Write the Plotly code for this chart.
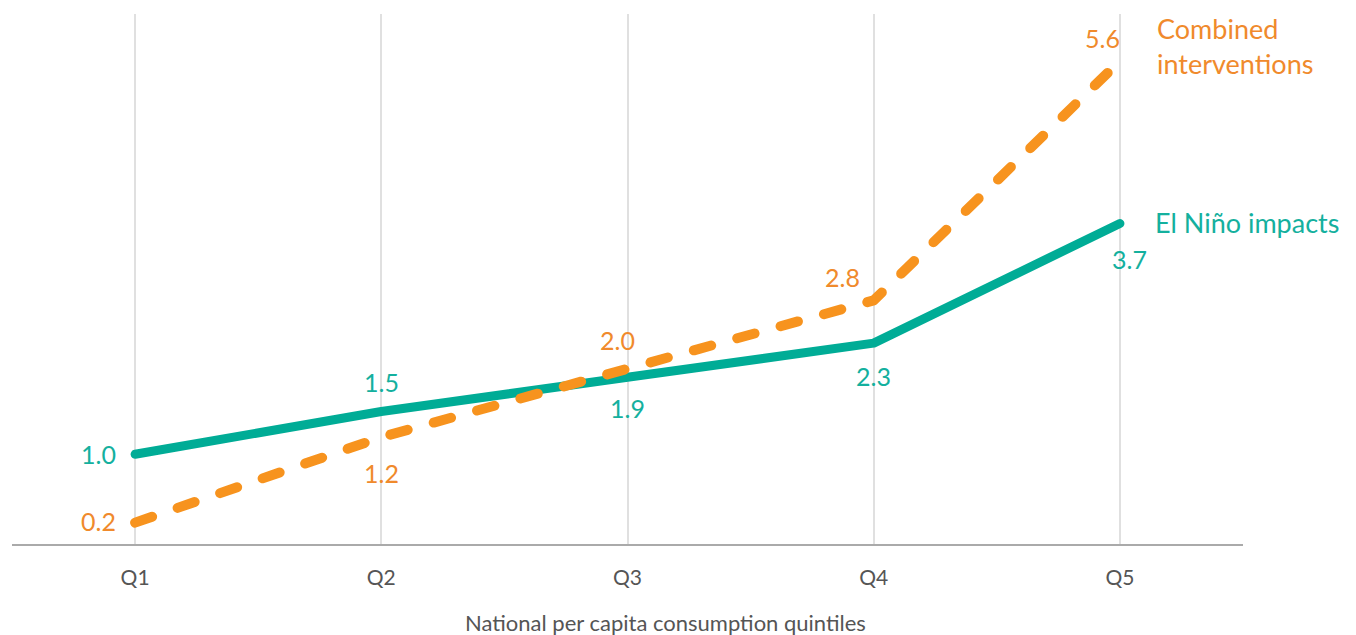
import plotly.graph_objects as go

# Quintiles of national per capita consumption
quintiles = ["Q1", "Q2", "Q3", "Q4", "Q5"]
el_nino = [1.0, 1.5, 1.9, 2.3, 3.7]
combined = [0.2, 1.2, 2.0, 2.8, 5.6]

TEAL = "#00AC96"
TEAL_TXT = "#14B09E"
ORANGE = "#F7931E"
ORANGE_TXT = "#F08A2C"
FONT = "Lato"

fig = go.Figure()

fig.add_trace(go.Scatter(
    x=quintiles, y=el_nino, mode="lines", name="El Niño impacts",
    line=dict(color=TEAL, width=9), hoverinfo="skip",
))
fig.add_trace(go.Scatter(
    x=quintiles, y=combined, mode="lines", name="Combined interventions",
    line=dict(color=ORANGE, width=10, dash="18px,27px"), hoverinfo="skip",
))

# value label offsets (pixels) per point
teal_offsets = [(-37, 0), (0, 30), (0, -31), (0, -33), (10, -36)]
orange_offsets = [(-37, 2), (0, -36), (-10, 29), (-31, 23), (-17, 23)]

annotations = []
for q, v, (dx, dy) in zip(quintiles, el_nino, teal_offsets):
    annotations.append(dict(
        x=q, y=v, text=f"{v:.1f}", showarrow=False, xshift=dx, yshift=dy,
        font=dict(family=FONT, size=25, color=TEAL_TXT),
        xanchor="center", yanchor="middle",
    ))
for q, v, (dx, dy) in zip(quintiles, combined, orange_offsets):
    annotations.append(dict(
        x=q, y=v, text=f"{v:.1f}", showarrow=False, xshift=dx, yshift=dy,
        font=dict(family=FONT, size=25, color=ORANGE_TXT),
        xanchor="center", yanchor="middle",
    ))

# series names at the line ends
annotations.append(dict(
    x=quintiles[-1], y=combined[-1], text="Combined<br>interventions",
    showarrow=False, xshift=35, yshift=15, xanchor="left", yanchor="middle",
    align="left", font=dict(family=FONT, size=27, color=ORANGE_TXT),
))
annotations.append(dict(
    x=quintiles[-1], y=el_nino[-1], text="El Niño impacts",
    showarrow=False, xshift=33, yshift=1, xanchor="left", yanchor="middle",
    align="left", font=dict(family=FONT, size=27, color=TEAL_TXT),
))

# x-axis title
annotations.append(dict(
    xref="paper", yref="paper", x=0.5305, y=0, yshift=-78,
    text="National per capita consumption quintiles", showarrow=False,
    xanchor="center", yanchor="middle",
    font=dict(family=FONT, size=22, color="#555555"),
))

fig.update_layout(
    width=1356, height=635,
    margin=dict(l=12, r=113, t=14, b=91),
    paper_bgcolor="white", plot_bgcolor="white",
    showlegend=False,
    annotations=annotations,
    xaxis=dict(
        range=[-0.5, 4.5], showgrid=True, gridcolor="#E0E0E0", gridwidth=1.5,
        showline=True, linecolor="#AAAAAA", linewidth=1.5,
        ticks="", ticklabelstandoff=14,
        tickfont=dict(family=FONT, size=21, color="#555555"),
        zeroline=False, fixedrange=True,
    ),
    yaxis=dict(
        range=[-0.05, 6.15], showgrid=False, showticklabels=False,
        zeroline=False, showline=False, ticks="", fixedrange=True,
    ),
)

round_caps = """
document.querySelectorAll('.js-line').forEach(function(p){
  p.style.strokeLinecap = 'round';
  p.style.strokeLinejoin = 'round';
});
"""

fig.write_html("out.html", post_script=round_caps, config={"displayModeBar": False})
